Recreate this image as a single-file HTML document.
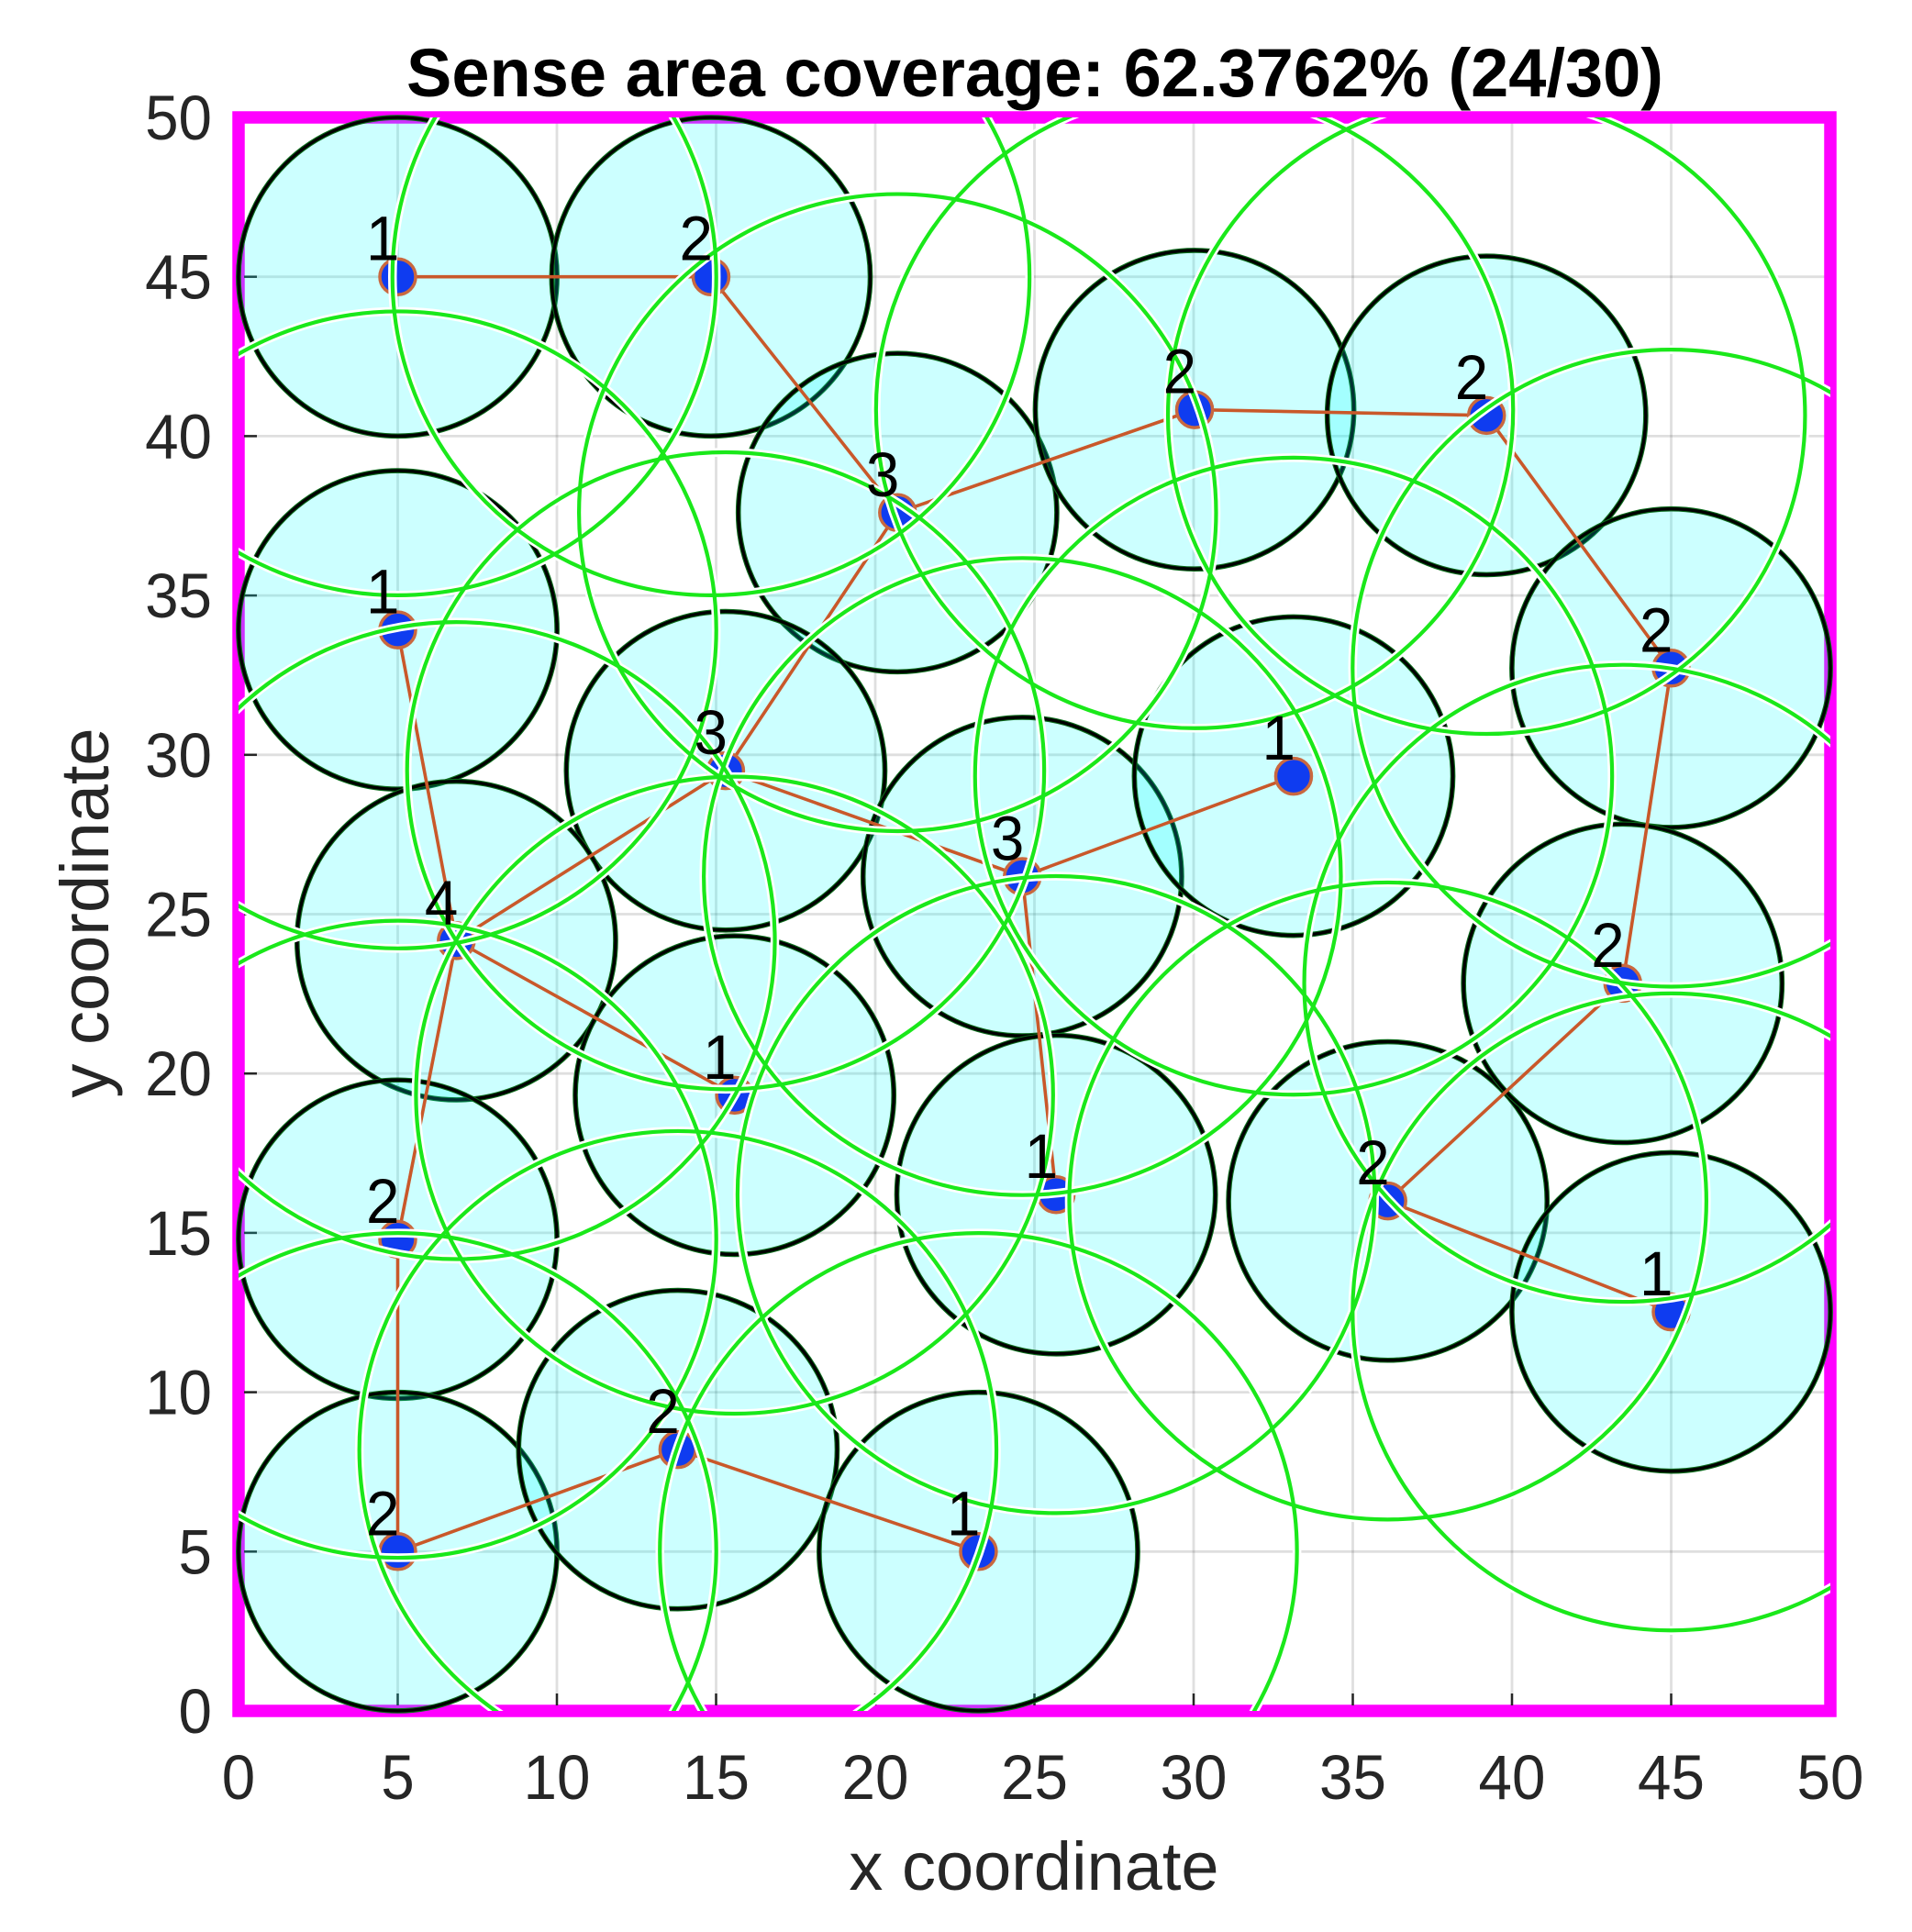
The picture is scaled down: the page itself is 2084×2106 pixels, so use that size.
<!DOCTYPE html>
<html lang="en">
<head>
<meta charset="utf-8">
<title>Sense area coverage</title>
<style>
html,body{margin:0;padding:0;background:#fff;width:2084px;height:2106px;overflow:hidden}
svg{display:block}
text{font-family:"Liberation Sans",Arial,sans-serif}
</style>
</head>
<body>
<svg id="chart" xmlns="http://www.w3.org/2000/svg" width="2084" height="2106" viewBox="0 0 2084 2106">
  <defs>
    <clipPath id="plot-clip"><rect x="260" y="128" width="1735" height="1737"></rect></clipPath>
  </defs>
  <rect x="0" y="0" width="2084" height="2106" fill="#ffffff"></rect>
  <text x="1128" y="105" text-anchor="middle" font-size="74" font-weight="bold" fill="#000000">Sense area coverage: 62.3762% (24/30)</text>
  <text x="1127" y="2060" text-anchor="middle" font-size="74" fill="#262626">x coordinate</text>
  <text transform="translate(118,995) rotate(-90)" text-anchor="middle" font-size="74" fill="#262626">y coordinate</text>
  <g id="grid"></g>
  <rect x="260" y="128" width="1735" height="1737" fill="none" stroke="#ff00ff" stroke-width="13.5"></rect>
  <g id="ticks"></g>
  <g id="sense"></g>
  <g id="links"></g>
  <g id="nodes"></g>
  <g id="comm" clip-path="url(#plot-clip)"></g>
  <g id="labels"></g>
</svg>
<script>
const xTicks = [0, 5, 10, 15, 20, 25, 30, 35, 40, 45, 50];
const yTicks = [0, 5, 10, 15, 20, 25, 30, 35, 40, 45, 50];
const nodeX = [5, 14.84, 20.7, 30.03, 39.2, 45, 5, 15.3, 24.62, 33.14, 6.84, 15.58, 25.68, 36.1, 43.48, 45, 5, 5, 13.8, 23.24];
const nodeY = [45, 45, 37.6, 40.83, 40.65, 32.72, 33.92, 29.5, 26.18, 29.33, 24.17, 19.32, 16.2, 16, 22.83, 12.52, 14.8, 5, 8.2, 5];
const nodeLabels = [1, 2, 3, 2, 2, 2, 1, 3, 3, 1, 4, 1, 1, 2, 2, 1, 2, 2, 2, 1];
const linkFrom = [0, 1, 2, 3, 4, 5, 14, 13, 2, 7, 8, 8, 7, 10, 10, 10, 16, 17, 18];
const linkTo = [1, 2, 3, 4, 5, 14, 13, 15, 7, 8, 9, 12, 10, 6, 11, 16, 17, 18, 19];
const senseRadius = 5;
const commRadius = 10;

const NS = 'http://www.w3.org/2000/svg';
function xScale(v) { return 260 + v * (1735 / 50); }
function yScale(v) { return 1865 - v * (1737 / 50); }
function rScale(v) { return v * (1736 / 50); }
function make(tag, parent, attrs) {
  const el = document.createElementNS(NS, tag);
  for (const k in attrs) el.setAttribute(k, attrs[k]);
  document.getElementById(parent).appendChild(el);
  return el;
}

xTicks.forEach(function (t) {
  const px = xScale(t);
  if (t > 0 && t < 50) {
    const g = make('line', 'grid', { x1: px, x2: px, y1: 128, y2: 1865, stroke: '#262626', 'stroke-opacity': 0.15, 'stroke-width': 2.8 });
    
    
    const k = make('line', 'ticks', { x1: px, x2: px, y1: 1859, y2: 1846, stroke: '#262626', 'stroke-width': 2.5 });
    
    
  }
  const lab = make('text', 'ticks', { transform: 'translate(' + px + ',1961) scale(0.95,1)', 'text-anchor': 'middle', 'font-size': 69, fill: '#262626' });
  lab.textContent = t;
  
  
});
yTicks.forEach(function (t) {
  const py = yScale(t);
  if (t > 0 && t < 50) {
    const g = make('line', 'grid', { x1: 260, x2: 1995, y1: py, y2: py, stroke: '#262626', 'stroke-opacity': 0.15, 'stroke-width': 2.8 });
    
    
    const k = make('line', 'ticks', { x1: 266, x2: 280, y1: py, y2: py, stroke: '#262626', 'stroke-width': 2.5 });
    
    
  }
  const lab = make('text', 'ticks', { transform: 'translate(231,' + (py + 24) + ') scale(0.95,1)', 'text-anchor': 'end', 'font-size': 69, fill: '#262626' });
  lab.textContent = t;
  
  
});

nodeX.forEach(function (x, i) {
  const c = make('circle', 'sense', { cx: xScale(x), cy: yScale(nodeY[i]), r: rScale(senseRadius), fill: '#00ffff', 'fill-opacity': 0.2, stroke: '#0a6a1a', 'stroke-width': 5.6 });
  
  
  const e = make('circle', 'sense', { cx: xScale(x), cy: yScale(nodeY[i]), r: rScale(senseRadius), fill: 'none', stroke: '#000000', 'stroke-width': 3.4 });
  
  
});

linkFrom.forEach(function (a, i) {
  const b = linkTo[i];
  const l = make('line', 'links', { x1: xScale(nodeX[a]), y1: yScale(nodeY[a]), x2: xScale(nodeX[b]), y2: yScale(nodeY[b]), stroke: '#c9582a', 'stroke-width': 3.6 });
  
  
});

nodeX.forEach(function (x, i) {
  const n = make('circle', 'nodes', { cx: xScale(x), cy: yScale(nodeY[i]), r: 19.5, fill: '#0f3cf0', stroke: '#c9683f', 'stroke-width': 3.5 });
  
  
});

nodeX.forEach(function (x, i) {
  const h = make('circle', 'comm', { cx: xScale(x), cy: yScale(nodeY[i]), r: rScale(commRadius), fill: 'none', stroke: '#ffffff', 'stroke-width': 9.5 });
  
  
});
nodeX.forEach(function (x, i) {
  const g = make('circle', 'comm', { cx: xScale(x), cy: yScale(nodeY[i]), r: rScale(commRadius), fill: 'none', stroke: '#1ae81a', 'stroke-width': 4.2 });
  
  
});

nodeX.forEach(function (x, i) {
  const t = make('text', 'labels', { transform: 'translate(' + (xScale(x) + 2) + ',' + (yScale(nodeY[i]) - 18) + ') scale(0.95,1)', 'text-anchor': 'end', 'font-size': 69, fill: '#000000' });
  t.textContent = nodeLabels[i];
  
  
});
</script>
</body>
</html>
